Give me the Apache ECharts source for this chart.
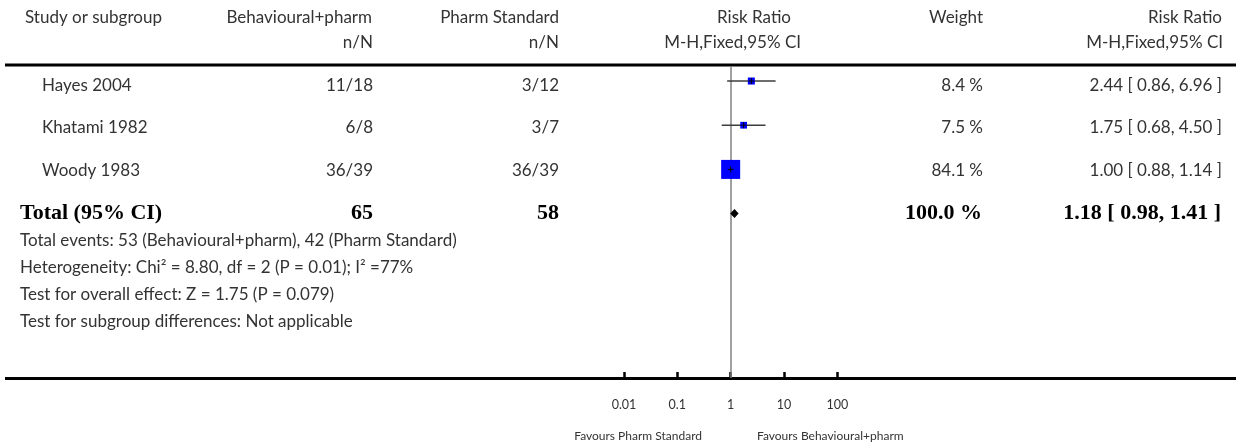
<!DOCTYPE html>
<html>
<head>
<meta charset="utf-8">
<script src="https://cdn.jsdelivr.net/npm/echarts@6/dist/echarts.min.js"></script>
<style>
  html, body { margin: 0; padding: 0; background: #fff; }
  #chart { width: 1236px; height: 448px; }
</style>
</head>
<body>
<div id="chart"></div>
<script>
// Forest plot: behavioural + pharmacological treatment vs pharmacological standard
const studies = ['Hayes 2004', 'Khatami 1982', 'Woody 1983'];
const expEvents = [11, 6, 36];
const expTotal = [18, 8, 39];
const ctrlEvents = [3, 3, 36];
const ctrlTotal = [12, 7, 39];
const riskRatio = [2.44, 1.75, 1.00];
const ciLow = [0.86, 0.68, 0.88];
const ciHigh = [6.96, 4.50, 1.14];
const weights = [8.4, 7.5, 84.1];

const totalLabel = 'Total (95% CI)';
const totalExpN = 65;
const totalCtrlN = 58;
const totalExpEvents = 53;
const totalCtrlEvents = 42;
const totalRR = 1.18;
const totalLow = 0.98;
const totalHigh = 1.41;
const totalWeight = 100.0;

const axisTicks = [0.01, 0.1, 1, 10, 100];
const tickLabels = ['0.01', '0.1', '1', '10', '100'];

const footnotes = [
  'Total events: ' + totalExpEvents + ' (Behavioural+pharm), ' + totalCtrlEvents + ' (Pharm Standard)',
  'Heterogeneity: Chi\u00B2 = 8.80, df = 2 (P = 0.01); I\u00B2 =77%',
  'Test for overall effect: Z = 1.75 (P = 0.079)',
  'Test for subgroup differences: Not applicable'
];

const SANS = 'Lato, "Open Sans", sans-serif';
const SERIF = '"Liberation Serif", "DejaVu Serif", serif';
const TXT = '#333333';
const MAIN_SIZE = 17;

function txt(s, x, y, align, opts) {
  opts = opts || {};
  return {
    type: 'text', silent: true, z: 10,
    style: {
      text: s, x: x, y: y,
      textAlign: align, textVerticalAlign: 'middle',
      fontFamily: opts.family || SANS,
      fontSize: opts.size || MAIN_SIZE,
      fontWeight: opts.weight || 'normal',
      fill: opts.color || TXT
    }
  };
}

const graphics = [];
// column headers
graphics.push(txt('Study or subgroup', 25, 18, 'left'));
graphics.push(txt('Behavioural+pharm', 372, 18, 'right'));
graphics.push(txt('Pharm Standard', 559, 18, 'right'));
graphics.push(txt('Risk Ratio', 791, 18, 'right'));
graphics.push(txt('Weight', 983, 18, 'right'));
graphics.push(txt('Risk Ratio', 1222, 18, 'right'));
graphics.push(txt('n/N', 373, 43, 'right'));
graphics.push(txt('n/N', 559, 43, 'right'));
graphics.push(txt('M-H,Fixed,95% CI', 801, 43, 'right'));
graphics.push(txt('M-H,Fixed,95% CI', 1223, 43, 'right'));

// horizontal rules
graphics.push({ type: 'rect', silent: true, shape: { x: 5, y: 63.5, width: 1231, height: 3 }, style: { fill: '#000' } });
graphics.push({ type: 'rect', silent: true, shape: { x: 5, y: 377, width: 1231, height: 3 }, style: { fill: '#000' } });

// study rows
const rowTextY = [86, 128, 171];
studies.forEach(function (name, i) {
  const y = rowTextY[i];
  graphics.push(txt(name, 42, y, 'left'));
  graphics.push(txt(expEvents[i] + '/' + expTotal[i], 373, y, 'right'));
  graphics.push(txt(ctrlEvents[i] + '/' + ctrlTotal[i], 559, y, 'right'));
  graphics.push(txt(weights[i].toFixed(1) + ' %', 983, y, 'right'));
  graphics.push(txt(riskRatio[i].toFixed(2) + ' [ ' + ciLow[i].toFixed(2) + ', ' + ciHigh[i].toFixed(2) + ' ]', 1222, y, 'right'));
});

// pooled row
const boldOpt = { family: SERIF, size: 22, weight: 'bold', color: '#000' };
graphics.push(txt(totalLabel, 20, 213, 'left', boldOpt));
graphics.push(txt(String(totalExpN), 373, 213, 'right', boldOpt));
graphics.push(txt(String(totalCtrlN), 559, 213, 'right', boldOpt));
graphics.push(txt(totalWeight.toFixed(1) + ' %', 982, 213, 'right', boldOpt));
graphics.push(txt(totalRR.toFixed(2) + ' [ ' + totalLow.toFixed(2) + ', ' + totalHigh.toFixed(2) + ' ]', 1221, 213, 'right', boldOpt));

// footnotes
footnotes.forEach(function (s, i) {
  graphics.push(txt(s, 20, 241 + i * 27, 'left'));
});

// favours labels under the axis
graphics.push(txt('Favours Pharm Standard', 702, 436, 'right', { size: 12 }));
graphics.push(txt('Favours Behavioural+pharm', 757, 436, 'left', { size: 12 }));

// marker side grows with the square root of the study weight
function boxSize(w) { return 1.5 + 1.91 * Math.sqrt(w); }

const studyData = studies.map(function (s, i) {
  return [riskRatio[i], ciLow[i], ciHigh[i], i, boxSize(weights[i])];
});
const totalData = [[totalRR, totalLow, totalHigh, studies.length]];

const chart = echarts.init(document.getElementById('chart'), null, { renderer: 'canvas' });

chart.setOption({
  animation: false,
  backgroundColor: '#fff',
  grid: { left: 624, width: 213.33, top: 66, height: 312 },
  xAxis: {
    type: 'log', logBase: 10, min: 0.01, max: 100,
    axisLine: { show: false, onZero: false },
    axisTick: { show: true, inside: true, length: 6, lineStyle: { color: '#000', width: 2.5 }, customValues: axisTicks },
    axisLabel: {
      margin: 20, fontFamily: SANS, fontSize: 12.5, color: TXT,
      customValues: axisTicks,
      formatter: function (v) {
        const k = axisTicks.findIndex(function (t) { return Math.abs(Math.log10(t) - Math.log10(v)) < 1e-6; });
        return k >= 0 ? tickLabels[k] : '';
      }
    },
    splitLine: { show: false }
  },
  yAxis: {
    type: 'value', inverse: true, min: -0.34, max: 6.72, show: false
  },
  graphic: graphics,
  series: [
    {
      type: 'custom',
      data: studyData,
      z: 5,
      renderItem: function (params, api) {
        const row = api.value(3);
        const c = api.coord([api.value(0), row]);
        const l = api.coord([api.value(1), row]);
        const h = api.coord([api.value(2), row]);
        const s = api.value(4);
        return {
          type: 'group',
          children: [
            { type: 'line', shape: { x1: l[0], y1: c[1], x2: h[0], y2: c[1] }, style: { stroke: '#3c3c3c', lineWidth: 1.6 } },
            { type: 'rect', shape: { x: c[0] - s / 2, y: c[1] - s / 2, width: s, height: s }, style: { fill: '#0000ff' } },
            { type: 'line', shape: { x1: c[0] - 3, y1: c[1], x2: c[0] + 3, y2: c[1] }, style: { stroke: '#000', lineWidth: 1 } },
            { type: 'line', shape: { x1: c[0], y1: c[1] - 3, x2: c[0], y2: c[1] + 3 }, style: { stroke: '#000', lineWidth: 1 } }
          ]
        };
      },
      markLine: {
        silent: true, symbol: 'none', label: { show: false },
        lineStyle: { color: '#808080', width: 1.5, type: 'solid' },
        data: [{ xAxis: 1 }]
      }
    },
    {
      type: 'custom',
      data: totalData,
      z: 6,
      renderItem: function (params, api) {
        const row = api.value(3);
        const c = api.coord([api.value(0), row]);
        const l = api.coord([api.value(1), row]);
        const h = api.coord([api.value(2), row]);
        return {
          type: 'polygon',
          shape: { points: [[l[0], c[1]], [c[0], c[1] - 4.5], [h[0], c[1]], [c[0], c[1] + 4.5]] },
          style: { fill: '#000' }
        };
      }
    }
  ]
});
</script>
</body>
</html>
